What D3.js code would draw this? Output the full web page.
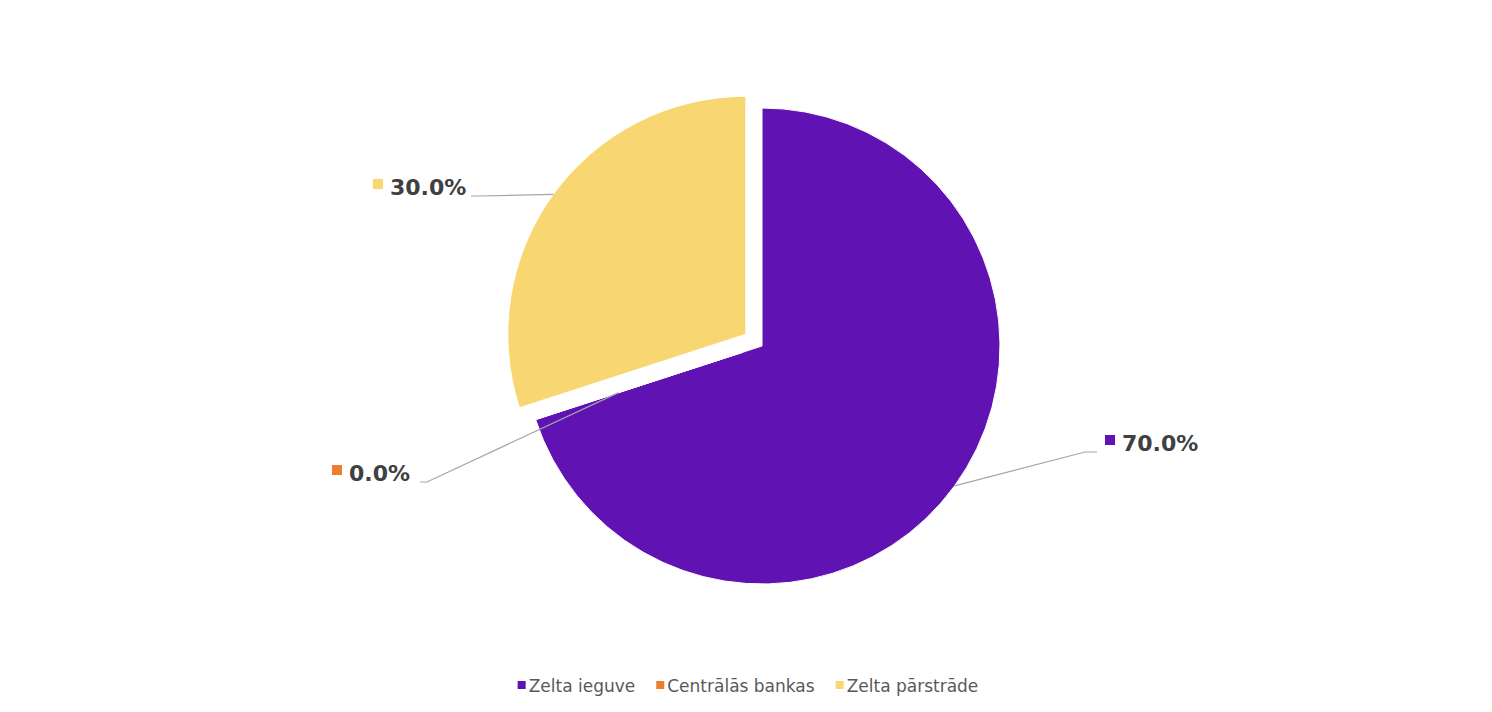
<!DOCTYPE html>
<html><head><meta charset="utf-8">
<script src="https://cdn.jsdelivr.net/npm/d3@7"></script>
<style>body{margin:0;background:#fff}</style>
</head><body><div id="chart"></div>
<script>
const categories = ["Zelta ieguve", "Centrālās bankas", "Zelta pārstrāde"];
const values = [70.0, 0.0, 30.0];
const colors = ["#6112b3", "#ed7d31", "#f8d671"];
const explode = [0, 20, 20];
// label anchor (text start) and elbow, layout only
const labelPos = [[1122, 443, 1085, 452], [349, 473, 427, 482], [390, 187, 478, 196]];

const width = 1492, height = 712, cx = 762, cy = 346, r = 238;

const svg = d3.select("#chart").append("svg")
    .attr("width", width).attr("height", height)
    .style("font-family", "Verdana, 'DejaVu Sans', sans-serif");

const pie = d3.pie().sort(null).value(d => d)(values);
const arc = d3.arc().innerRadius(0).outerRadius(r);

const g = svg.append("g").attr("transform", `translate(${cx},${cy})`);

pie.forEach((p, i) => {
    const mid = (p.startAngle + p.endAngle) / 2;
    const ox = explode[i] * Math.sin(mid), oy = -explode[i] * Math.cos(mid);
    g.append("path")
        .attr("d", arc(p))
        .attr("transform", `translate(${ox},${oy})`)
        .attr("fill", colors[i])
        .attr("stroke", "#fff").attr("stroke-width", 1);

    const rr = values[i] === 0 ? r * 0.55 : r;
    const sx = cx + ox + rr * Math.sin(mid), sy = cy + oy - rr * Math.cos(mid);
    const [tx, ty, ex, ey] = labelPos[i];
    const left = tx < cx;
    const endX = left ? ex - 7 : ex + 12;
    svg.append("polyline")
        .attr("points", `${sx},${sy} ${ex},${ey} ${endX},${ey}`)
        .attr("fill", "none").attr("stroke", "#a6a6a6").attr("stroke-width", 1.2);

    svg.append("rect").attr("x", tx - 17).attr("y", ty - 8).attr("width", 10).attr("height", 10)
        .attr("fill", colors[i]);
    svg.append("text").attr("x", tx).attr("y", ty + 8)
        .attr("font-size", 22).attr("font-weight", "bold").attr("fill", "#404040")
        .text(d3.format(".1f")(values[i]) + "%");
});

// legend
const legend = svg.append("g");
let x = 0;
const items = categories.map((c, i) => {
    const it = legend.append("g").attr("transform", `translate(${x},0)`);
    it.append("rect").attr("x", 0).attr("y", -5).attr("width", 8).attr("height", 8).attr("fill", colors[i]);
    const t = it.append("text").attr("x", 11).attr("y", 6).attr("font-size", 17).attr("fill", "#595959").text(c);
    x += 11 + t.node().getComputedTextLength() + 21;
    return it;
});
const totalW = x - 21;
legend.attr("transform", `translate(${(width - totalW) / 2 + 2},686)`);
</script>
</body></html>
